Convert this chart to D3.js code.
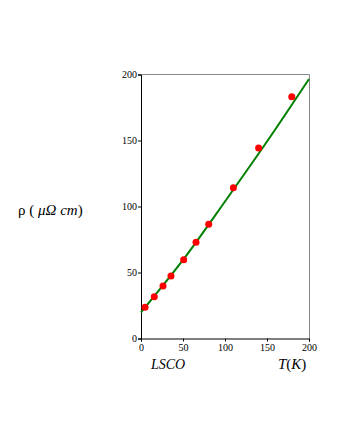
<!DOCTYPE html>
<html><head><meta charset="utf-8">
<script src="https://cdn.jsdelivr.net/npm/d3@7"></script>
<style>body{margin:0;background:#fff}svg{display:block}.tk text{font-family:"Liberation Serif","Times New Roman",serif !important;font-size:10px}</style>
</head><body>
<script>
const tempK = [4.8, 15.8, 26.2, 35.7, 50.8, 65.5, 80.6, 110, 140, 179.5];
const rho = [23.6, 31.7, 39.8, 47.3, 59.7, 72.9, 86.5, 114.2, 144.3, 183.2];
const fitT = [0, 50, 100, 150, 200];
const fitRho = [19.8, 59.5, 103.8, 149.2, 196.6];
const xTicks = [0, 50, 100, 150, 200];
const yTicks = [0, 50, 100, 150, 200];

const W = 340, H = 440;
const svg = d3.select("body").append("svg").attr("width", W).attr("height", H);
const x = d3.scaleLinear().domain([0, 200]).range([141, 309]);
const y = d3.scaleLinear().domain([0, 200]).range([338.5, 74.5]);

// frame top/right
svg.append("line").attr("x1", 141).attr("x2", 309.5).attr("y1", 74.5).attr("y2", 74.5).attr("stroke", "#888").attr("stroke-width", 1);
svg.append("line").attr("x1", 309.5).attr("x2", 309.5).attr("y1", 74.5).attr("y2", 338.5).attr("stroke", "#888").attr("stroke-width", 1);

const serif = "Liberation Serif, Times New Roman, serif";
const xAxis = svg.append("g").attr("class", "tk").attr("transform", "translate(0,338.5)")
  .call(d3.axisBottom(x).tickValues(xTicks).tickSize(3).tickPadding(2).tickFormat(d3.format("d")));
const yAxis = svg.append("g").attr("class", "tk").attr("transform", "translate(141,0)")
  .call(d3.axisLeft(y).tickValues(yTicks).tickSize(3).tickPadding(1).tickFormat(d3.format("d")));
[xAxis, yAxis].forEach(g => {
  g.attr("font-family", serif).attr("font-size", 10);
  g.select(".domain").attr("stroke", "#000");
  g.selectAll("text").attr("fill", "#000");
});

// fit line
const fit = fitT.map((t, i) => [t, fitRho[i]]);
svg.append("path").datum(fit)
  .attr("d", d3.line().curve(d3.curveMonotoneX).x(d => x(d[0])).y(d => y(d[1])))
  .attr("stroke", "#008000").attr("stroke-width", 2).attr("fill", "none");

// points
svg.selectAll("circle.pt").data(tempK.map((t, i) => [t, rho[i]])).join("circle")
  .attr("cx", d => x(d[0])).attr("cy", d => y(d[1])).attr("r", 3.5).attr("fill", "#ff0000");

svg.append("text").attr("x", 151).attr("y", 369).attr("font-family", serif).attr("font-style", "italic").attr("font-size", 14).text("LSCO");
svg.append("text").attr("x", 278).attr("y", 369).attr("font-family", serif).attr("font-size", 15)
  .html('<tspan font-style="italic">T</tspan>(<tspan font-style="italic">K</tspan>)');
svg.append("text").attr("x", 18).attr("y", 215).attr("font-family", serif).attr("font-size", 15)
  .html('ρ ( <tspan font-style="italic">μΩ</tspan> <tspan font-style="italic">cm</tspan>)');
</script>
</body></html>
